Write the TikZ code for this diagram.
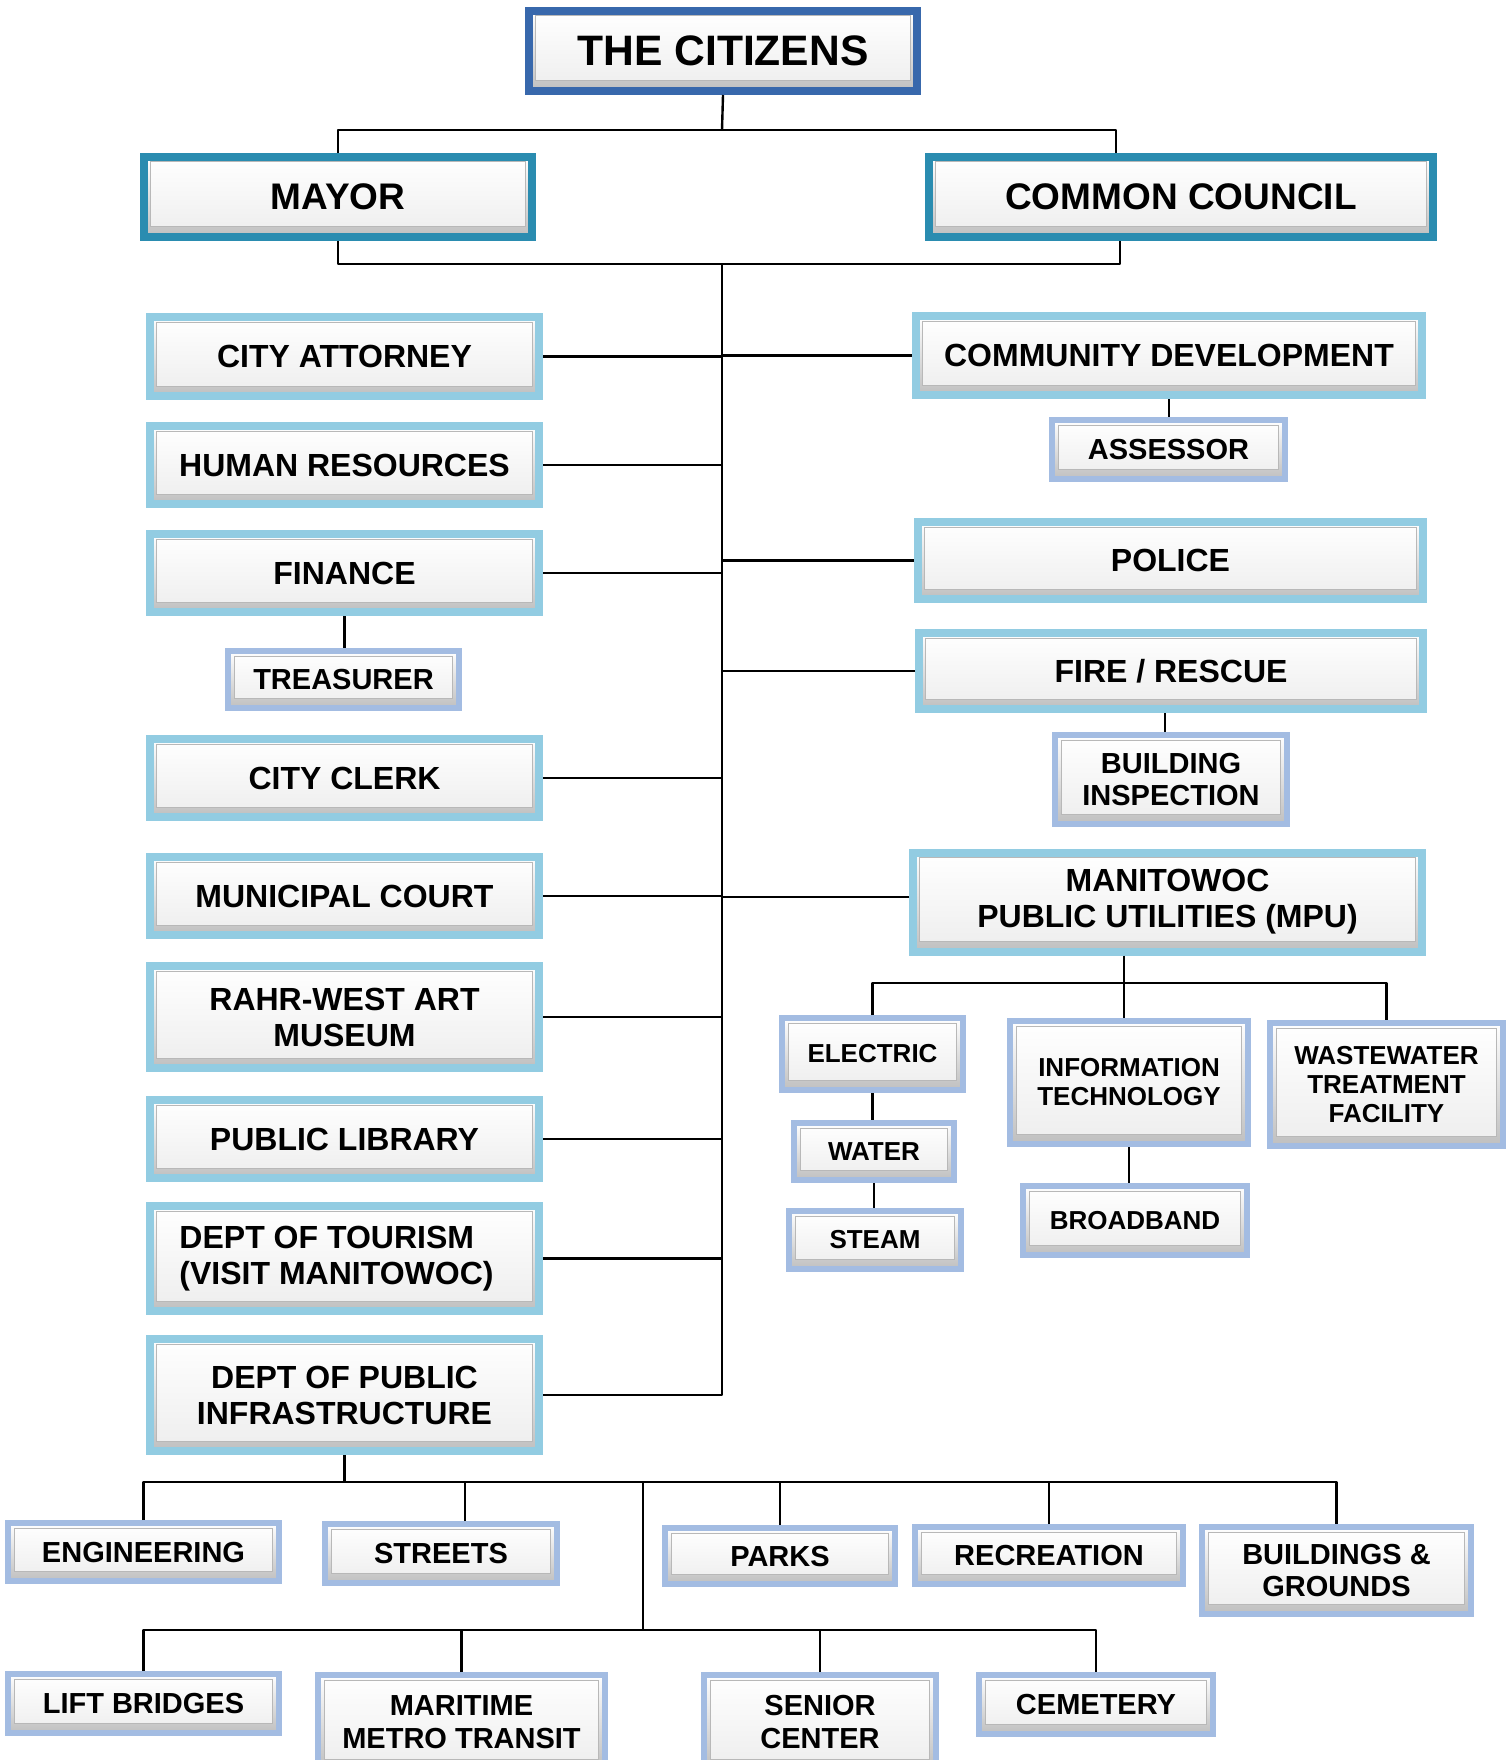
\documentclass[tikz,border=0pt]{standalone}
\usepackage{fontspec}
\setmainfont{Liberation Sans}
\usepackage{xcolor}

\definecolor{citzblue}{RGB}{56,104,172}
\definecolor{headteal}{RGB}{42,140,176}
\definecolor{deptblue}{RGB}{146,204,226}
\definecolor{unitblue}{RGB}{163,188,226}

\tikzset{
  panel/.style={rectangle, draw=#1, inner sep=0pt, align=center,
    top color=white, bottom color=black!25,
    path picture={\draw[black!28, line width=0.5pt, top color=white, bottom color=black!7]
      ([shift={(3pt,-2.5pt)}]path picture bounding box.north west) rectangle
      ([shift={(-3.5pt,5pt)}]path picture bounding box.south east);}},
  citz/.style={panel=citzblue, line width=4pt, font=\bfseries\fontsize{21.3}{24}\selectfont},
  head/.style={panel=headteal, line width=4pt, font=\bfseries\fontsize{18.5}{21}\selectfont},
  dept/.style={panel=deptblue, line width=4pt, font=\bfseries\fontsize{16}{18}\selectfont},
  unit/.style={panel=unitblue, line width=3pt, font=\bfseries\fontsize{14.5}{16.3}\selectfont},
  mpuunit/.style={unit, font=\bfseries\fontsize{13}{14.5}\selectfont},
  link/.style={line width=1.2pt, line join=round}
}

\begin{document}
\begin{tikzpicture}[x=0.5pt, y=-0.5pt]
\fill[white, use as bounding box] (0,0) rectangle (1508,1760);
\clip (0,0) rectangle (1508,1760);

\node[citz, minimum width=194pt, minimum height=40pt] (citizens) at (723,51) {THE CITIZENS};
\node[head, minimum width=194pt, minimum height=40pt] (mayor) at (338,197) {MAYOR};
\node[head, minimum width=252pt, minimum height=40pt] (council) at (1181,197) {COMMON COUNCIL};

\node[dept, minimum width=194.5pt, minimum height=39.5pt] (atty) at (344.5,356.5) {CITY ATTORNEY};
\node[dept, minimum width=194.5pt, minimum height=39pt] (hr) at (344.5,465) {HUMAN RESOURCES};
\node[dept, minimum width=194.5pt, minimum height=39pt] (finance) at (344.5,573) {FINANCE};
\node[unit, minimum width=115.5pt, minimum height=28.5pt] (treasurer) at (343.5,679.5) {TREASURER};
\node[dept, minimum width=194.5pt, minimum height=39pt] (clerk) at (344.5,778) {CITY CLERK};
\node[dept, minimum width=194.5pt, minimum height=39pt] (court) at (344.5,896) {MUNICIPAL COURT};
\node[dept, minimum width=194.5pt, minimum height=51pt] (museum) at (344.5,1017) {RAHR-WEST ART\\MUSEUM};
\node[dept, minimum width=194.5pt, minimum height=39pt] (library) at (344.5,1139) {PUBLIC LIBRARY};
\node[dept, minimum width=194.5pt, minimum height=52.5pt, align=left] (tourism) at (344.5,1258.5) {DEPT OF TOURISM\hspace*{8pt}\\(VISIT MANITOWOC)\hspace*{8pt}};
\node[dept, minimum width=194.5pt, minimum height=56pt] (dpi) at (344.5,1395) {DEPT OF PUBLIC\\INFRASTRUCTURE};

\node[dept, minimum width=253pt, minimum height=39.5pt] (commdev) at (1169,355.5) {COMMUNITY DEVELOPMENT};
\node[unit, minimum width=116.5pt, minimum height=29.5pt] (assessor) at (1168.5,449.5) {ASSESSOR};
\node[dept, minimum width=252.5pt, minimum height=38.5pt] (police) at (1170.5,560.5) {POLICE};
\node[dept, minimum width=252pt, minimum height=38pt] (fire) at (1171,671) {FIRE / RESCUE};
\node[unit, minimum width=116pt, minimum height=44.5pt] (bldginsp) at (1171,779.5) {BUILDING\\INSPECTION};
\node[dept, minimum width=254.5pt, minimum height=49.5pt] (mpu) at (1167.5,902) {MANITOWOC\\PUBLIC UTILITIES (MPU)};

\node[mpuunit, minimum width=90.5pt, minimum height=36pt] (electric) at (872.5,1054) {ELECTRIC};
\node[mpuunit, minimum width=80pt, minimum height=28.5pt] (water) at (874,1151.5) {WATER};
\node[mpuunit, minimum width=86pt, minimum height=29pt] (steam) at (875,1240) {STEAM};
\node[mpuunit, minimum width=119pt, minimum height=61.5pt] (it) at (1129,1082.5) {INFORMATION\\TECHNOLOGY};
\node[mpuunit, minimum width=112pt, minimum height=34.5pt] (broadband) at (1135,1220.5) {BROADBAND};
\node[mpuunit, minimum width=116.5pt, minimum height=61.5pt] (wwtf) at (1386.5,1084.5) {WASTEWATER\\TREATMENT\\FACILITY};

\node[unit, minimum width=135.5pt, minimum height=29pt] (eng) at (143.5,1552) {ENGINEERING};
\node[unit, minimum width=116pt, minimum height=29.5pt] (streets) at (441,1553.5) {STREETS};
\node[unit, minimum width=115pt, minimum height=28pt] (parks) at (780,1556) {PARKS};
\node[unit, minimum width=134pt, minimum height=28.5pt] (recreation) at (1049,1555.5) {RECREATION};
\node[unit, minimum width=134.5pt, minimum height=43.5pt] (bldg) at (1336.5,1570.5) {BUILDINGS \&\\GROUNDS};
\node[unit, minimum width=135.5pt, minimum height=29.5pt] (lift) at (143.5,1703.5) {LIFT BRIDGES};
\node[unit, minimum width=143.5pt, minimum height=47pt] (maritime) at (461.5,1722) {MARITIME\\METRO TRANSIT};
\node[unit, minimum width=116pt, minimum height=47pt] (senior) at (820,1722) {SENIOR\\CENTER};
\node[unit, minimum width=117pt, minimum height=29.5pt] (cemetery) at (1096,1704.5) {CEMETERY};

\coordinate (top) at (722,130);
\coordinate (hub) at (722,264);
\coordinate (mpubus) at (1124,983);
\coordinate (dpibus) at (343,1482);
\coordinate (lowbus) at (643,1630);

\draw[link] (citizens.south) -- (top);
\draw[link] (mayor.north) |- (top) -| ([xshift=-32.5pt]council.north);
\draw[link] (mayor.south) |- (hub) -| ([xshift=-30.5pt]council.south);
\draw[link] (hub) |- (dpi.east);
\foreach \d in {atty,hr,finance,clerk,court,museum,library,tourism}
  \draw[link] (\d.east) -- (\d.east -| hub);
\foreach \d in {commdev,police,fire}
  \draw[link] (\d.west) -- (\d.west -| hub);
\draw[link] ([yshift=2.5pt]mpu.west) -- ([yshift=2.5pt]mpu.west -| hub);
\draw[link] (finance.south) -- (finance.south |- treasurer.north);
\draw[link] (commdev.south) -- (commdev.south |- assessor.north);
\draw[link] ([xshift=-3pt]fire.south) -- ([xshift=-3pt]fire.south |- bldginsp.north);

\draw[link] (mpubus |- mpu.south) -- (mpubus);
\draw[link] (electric.north) |- (mpubus) -| (wwtf.north);
\draw[link] (mpubus) -- (mpubus |- it.north);
\draw[link] (electric.south) -- (electric.south |- water.north);
\draw[link] (water.south) -- (water.south |- steam.north);
\draw[link] (it.south) -- (it.south |- broadband.north);

\draw[link] (dpi.south) -- (dpi.south |- dpibus);
\draw[link] (eng.north) |- (dpibus) -| (bldg.north);
\foreach \d in {parks,recreation}
  \draw[link] (\d.north) -- (\d.north |- dpibus);
\draw[link] ([xshift=12pt]streets.north) -- ([xshift=12pt]streets.north |- dpibus);
\draw[link] (lowbus) -- (lowbus |- dpibus);
\draw[link] (lift.north) |- (lowbus) -| (cemetery.north);
\foreach \d in {maritime,senior}
  \draw[link] (\d.north) -- (\d.north |- lowbus);
\end{tikzpicture}
\end{document}
